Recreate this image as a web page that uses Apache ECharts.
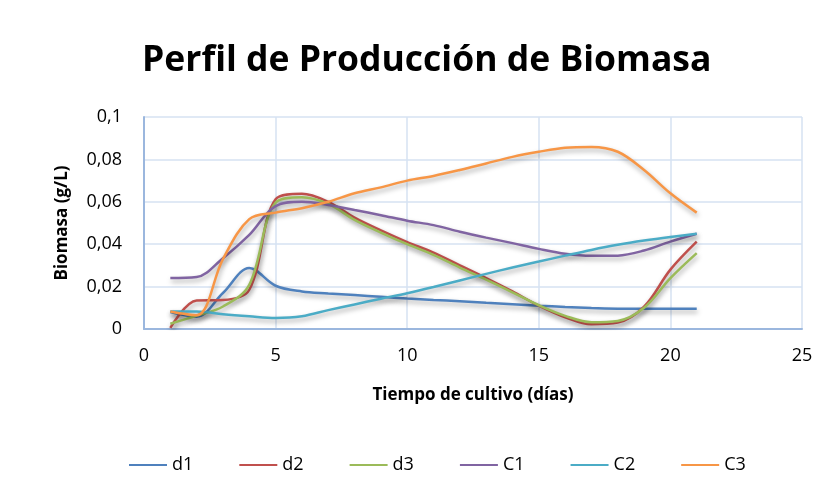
<!DOCTYPE html>
<html>
<head>
<meta charset="utf-8">
<script src="https://cdn.jsdelivr.net/npm/echarts@6/dist/echarts.min.js"></script>
<style>
html,body{margin:0;padding:0;background:#fff;}
#chart{width:836px;height:500px;}
</style>
</head>
<body>
<div id="chart"></div>
<script>
const days = [1,2,3,4,5,6,7,8,9,10,11,12,13,14,15,16,17,18,19,20,21];
const seriesNames = ['d1','d2','d3','C1','C2','C3'];
const d1 = [0.008,0.0058,0.017,0.0288,0.0204,0.0177,0.0168,0.016,0.0152,0.0144,0.0137,0.0131,0.0124,0.0117,0.011,0.0104,0.0099,0.0096,0.0095,0.0095,0.0095];
const d2 = [0.0005,0.0135,0.0137,0.0185,0.0612,0.0638,0.060,0.0525,0.0465,0.041,0.036,0.030,0.024,0.0177,0.011,0.0055,0.0022,0.003,0.0105,0.028,0.0412];
const d3 = [0.0025,0.0063,0.0106,0.0208,0.0596,0.0621,0.059,0.0515,0.0455,0.040,0.035,0.029,0.0233,0.0173,0.0112,0.0062,0.0032,0.0038,0.0100,0.024,0.0358];
const C1 = [0.024,0.0245,0.0334,0.0444,0.058,0.060,0.0585,0.0561,0.0537,0.0511,0.049,0.0459,0.0431,0.0405,0.0378,0.0355,0.0345,0.0346,0.037,0.0412,0.0449];
const C2 = [0.0083,0.0083,0.007,0.006,0.0052,0.006,0.0089,0.0116,0.0143,0.0169,0.0198,0.0229,0.026,0.029,0.0318,0.0346,0.0373,0.0397,0.0417,0.0434,0.0449];
const C3 = [0.0083,0.0065,0.033,0.0518,0.0549,0.057,0.060,0.064,0.0668,0.070,0.0722,0.075,0.0781,0.0812,0.0836,0.0855,0.0859,0.0836,0.075,0.064,0.0549];
const yTicks = [0,0.02,0.04,0.06,0.08,0.1];
const colors = ['#4F81BD','#C0504D','#9BBB59','#8064A2','#4BACC6','#F79646'];
const allValues = [d1,d2,d3,C1,C2,C3];

const font = '"Open Sans", "Noto Sans", sans-serif';
const chart = echarts.init(document.getElementById('chart'), null, {renderer:'canvas'});
chart.setOption({
  backgroundColor:'#fff',
  animation:false,
  color: colors,
  title:{
    text:'Perfil de Producción de Biomasa',
    left:137, top:38,
    textStyle:{fontFamily:font, fontWeight:'bold', fontSize:35.5, color:'#000'}
  },
  grid:{left:144, right:34, top:117, bottom:171, containLabel:false},
  legend:{
    data: seriesNames,
    bottom:21, left:124,
    icon:'rect', itemWidth:38, itemHeight:2, itemGap:46,
    textStyle:{fontFamily:font, fontSize:18, color:'#000'}
  },
  xAxis:{
    type:'value', min:0, max:25, interval:5,
    name:'Tiempo de cultivo (días)', nameLocation:'middle', nameGap:58,
    nameTextStyle:{fontFamily:font, fontWeight:'bold', fontSize:17, color:'#000'},
    axisLine:{show:true, lineStyle:{color:'#9BB7DE', width:2}},
    axisTick:{show:false},
    axisLabel:{fontFamily:font, fontSize:18, color:'#000', margin:18},
    splitLine:{show:true, lineStyle:{color:'#D6E2F2', width:1.5}}
  },
  yAxis:{
    type:'value', min:0, max:0.1, interval:0.02,
    name:'Biomasa (g/L)', nameLocation:'middle', nameGap:73, nameRotate:90,
    nameTextStyle:{fontFamily:font, fontWeight:'bold', fontSize:17, color:'#000'},
    axisLine:{show:true, lineStyle:{color:'#9BB7DE', width:2}},
    axisTick:{show:false},
    axisLabel:{fontFamily:font, fontSize:18, color:'#000', margin:22,
      formatter: v => String(+v.toFixed(2)).replace('.', ',')},
    splitLine:{show:true, lineStyle:{color:'#D6E2F2', width:1.5}}
  },
  series: seriesNames.map((n,i)=>({
    name:n, type:'line', smooth:0.35, showSymbol:false, symbol:'none',
    data: days.map((d,j)=>[d, allValues[i][j]]),
    lineStyle:{width:2.5, color:colors[i], shadowColor:'rgba(0,0,0,0.35)', shadowBlur:5, shadowOffsetY:3, shadowOffsetX:1}
  }))
});
</script>
</body>
</html>
